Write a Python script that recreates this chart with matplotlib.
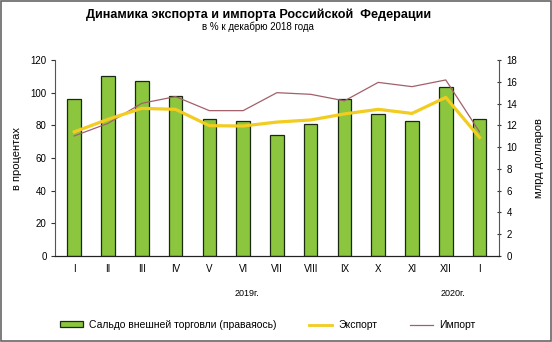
import matplotlib.pyplot as plt
from matplotlib.patches import Rectangle
from matplotlib.lines import Line2D

plt.rcParams['font.family'] = ['Liberation Sans', 'DejaVu Sans']

# Months: Jan 2019 .. Jan 2020
months = ["I", "II", "III", "IV", "V", "VI", "VII", "VIII", "IX", "X", "XI", "XII", "I"]
# trade balance, bn USD (right axis)
balance = [14.4, 16.5, 16.1, 14.7, 12.55, 12.4, 11.1, 12.1, 14.4, 13.0, 12.4, 15.5, 12.55]
# export and import, % of December 2018 (left axis)
export = [76, 83.7, 90.4, 89.8, 79.8, 79.6, 82, 83.3, 87, 89.8, 87.3, 97.1, 72.6]
imports = [73.5, 81.2, 93.5, 97.6, 89, 89, 100, 99, 95, 106.3, 103.7, 107.8, 76]

x = list(range(len(months)))

fig = plt.figure(figsize=(5.52, 3.42), dpi=100)
ax = fig.add_axes([0.0996, 0.2515, 0.804, 0.573])
ax2 = ax.twinx()

# bars on the right axis, lines on the left one
ax2.bar(x, balance, width=0.4, color="#8cc63e", edgecolor="#1a2a10", linewidth=0.9, zorder=2)
ax.plot(x, imports, color="#a2606a", linewidth=0.9, zorder=4)
ax.plot(x, export, color="#f2cc1e", linewidth=2.3, zorder=5)

ax.set_zorder(ax2.get_zorder() + 1)
ax.patch.set_visible(False)

ax.set_xlim(-0.57, 12.57)
ax.set_ylim(0, 120)
ax2.set_ylim(0, 18)
ax.set_yticks(range(0, 121, 20))
ax2.set_yticks(range(0, 19, 2))
ax.set_xticks(x)
ax.set_xticklabels(months, fontsize=7)
ax.tick_params(axis="x", length=0, pad=6)
ax.tick_params(axis="y", labelsize=7, length=3, direction="out", color="#333333", pad=3)
ax2.tick_params(axis="y", labelsize=7, length=3, direction="inout", color="#333333", pad=4)

for a in (ax, ax2):
    a.spines["top"].set_visible(False)
    a.spines["left"].set_color("#555555")
    a.spines["right"].set_color("#555555")
    a.spines["bottom"].set_color("#222222")
ax.spines["right"].set_visible(False)
ax2.spines["left"].set_visible(False)

ax.set_ylabel("в процентах", fontsize=8, labelpad=6)
ax2.set_ylabel("млрд долларов", fontsize=8, labelpad=12)

fig.text(0.468, 0.956, "Динамика экспорта и импорта Российской  Федерации",
         ha="center", va="center", fontsize=9.1, fontweight="bold")
fig.text(0.468, 0.921, "в % к декабрю 2018 года", ha="center", va="center", fontsize=7)

fig.text(247 / 552, 1 - 293 / 342, "2019г.", ha="center", va="center", fontsize=6.5)
fig.text(453 / 552, 1 - 293 / 342, "2020г.", ha="center", va="center", fontsize=6.5)

handles = [
    Rectangle((0, 0), 1, 1, facecolor="#8cc63e", edgecolor="#1a2a10", linewidth=0.9),
    Line2D([], [], color="#f2cc1e", linewidth=2),
    Line2D([], [], color="#a2606a", linewidth=0.9),
]
labels = ["Сальдо внешней торговли (праваяось)", "Экспорт", "Импорт"]
fig.legend(handles, labels, loc="center", bbox_to_anchor=(0.485, 1 - 325 / 342), ncol=3,
           frameon=False, fontsize=7.5, handlelength=2.2, handleheight=0.5,
           columnspacing=3.1, handletextpad=0.6)

# outer frame of the picture
fig.patches.append(Rectangle((0.002, 0.004), 0.996, 0.993, transform=fig.transFigure,
                             fill=False, edgecolor="#666666", linewidth=1.2))

fig.savefig("out.png", dpi=100)
